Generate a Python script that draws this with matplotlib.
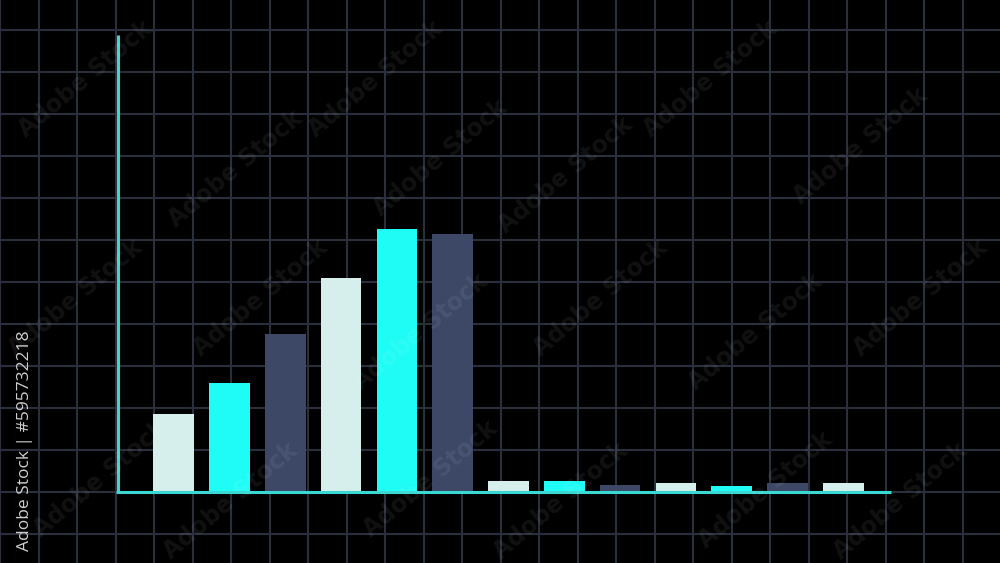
import numpy as np
import matplotlib
matplotlib.use("Agg")
import matplotlib.pyplot as plt

## -----------------------------------------------
# data
## -----------------------------------------------
bar_values = [18.6, 26.0, 37.6, 51.0, 62.6, 61.4, 2.8, 2.6, 1.7, 2.1, 1.6, 2.3, 2.1]
bar_colors = ["#d6efec", "#1ffcf6", "#3c4865"]  # repeats along the bars

## -----------------------------------------------
# style
## -----------------------------------------------
bg = "#000000"
grid_col = "#2a2f3b"
axis_col = "#3ad8d2"
bar_w = 0.73

fig = plt.figure(figsize=(10, 5.63), dpi=100, facecolor=bg)
ax = fig.add_axes([0, 0, 1, 1])
ax.set_facecolor(bg)

# grid (vertical spacing is a bit narrower than horizontal)
ax.set_xticks(np.arange(-1.039 - 0.69 * 3, 15, 0.69))
ax.set_yticks(np.arange(-20, 120, 10))
ax.grid(True, color=grid_col, linewidth=1.5, zorder=0)
ax.tick_params(length=0, labelbottom=False, labelleft=False)
for s in ax.spines.values():
    s.set_visible(False)

# x: one unit per bar slot, y: 10 units per grid row
# (limits after the ticks, else set_ticks widens them)
ax.set_xlim(-3.113, 14.808)
ax.set_ylim(-16.83, 117.21)

# bars
x = np.arange(len(bar_values))
cols = [bar_colors[i % 3] for i in x]
ax.bar(x, bar_values, width=bar_w, color=cols, zorder=2)

# axis lines
ax.plot([-1.0, -1.0], [0, 108.9], color=axis_col, lw=2.2, zorder=3, solid_capstyle="butt")
ax.plot([-1.04, 12.85], [0, 0], color=axis_col, lw=2.2, zorder=3, solid_capstyle="butt")

# watermark bits (kept inside the frame)
wm_pos = [(0.085, 0.86), (0.235, 0.70), (0.375, 0.86), (0.44, 0.72),
          (0.565, 0.69), (0.71, 0.86), (0.86, 0.74),
          (0.075, 0.47), (0.26, 0.47), (0.42, 0.41), (0.60, 0.47), (0.755, 0.41),
          (0.92, 0.47), (0.10, 0.15), (0.23, 0.11), (0.43, 0.15), (0.56, 0.11),
          (0.765, 0.13), (0.90, 0.11)]
for px, py in wm_pos:
    fig.text(px, py, "Adobe Stock", color="white", alpha=0.07, fontsize=17,
             fontweight="bold", rotation=40, ha="center", va="center", zorder=5)

fig.text(0.025, 0.414, "Adobe Stock | #595732218", color="#cfcfcf", fontsize=12.5,
         rotation=90, ha="center", va="top", family="Open Sans", zorder=6)

fig.savefig("out.png", dpi=100, facecolor=bg)
